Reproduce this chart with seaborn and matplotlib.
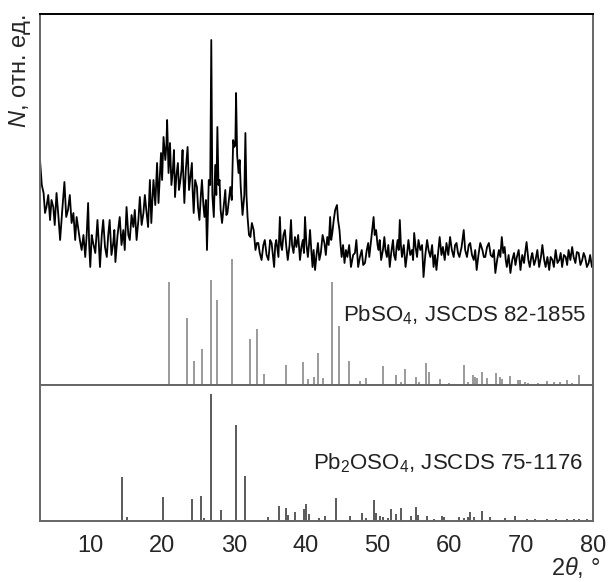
import numpy as np
import matplotlib
matplotlib.use("Agg")
import matplotlib.pyplot as plt
import seaborn as sns

sns.set_style("white")
plt.rcParams['font.family'] = ['Liberation Sans', 'DejaVu Sans']
plt.rcParams['mathtext.fontset'] = 'custom'
plt.rcParams['mathtext.rm'] = 'Liberation Sans'
plt.rcParams['mathtext.it'] = 'Liberation Sans:italic'

# measured pattern (2theta, intensity in arbitrary units)
tt = [3.0, 3.25, 3.5, 3.7, 3.9, 4.15, 4.4, 4.6, 4.85, 5.05,
      5.3, 5.55, 5.8, 6.1, 6.4, 6.65, 6.9, 7.15, 7.4, 7.65,
      7.9, 8.1, 8.3, 8.55, 8.8, 9.05, 9.3, 9.5, 9.7, 9.85,
      10.0, 10.2, 10.4, 10.7, 11.0, 11.2, 11.35, 11.6, 11.8, 12.05,
      12.3, 12.5, 12.7, 12.95, 13.2, 13.35, 13.5, 13.8, 14.1, 14.35,
      14.6, 14.8, 15.05, 15.3, 15.5, 15.75, 16.0, 16.2, 16.45, 16.7,
      16.9, 17.15, 17.4, 17.6, 17.8, 18.05, 18.3, 18.5, 18.65, 18.8,
      19.05, 19.3, 19.5, 19.7, 19.85, 20.0, 20.2, 20.45, 20.6, 20.7,
      20.9, 21.1, 21.3, 21.5, 21.65, 21.8, 22.0, 22.2, 22.35, 22.5,
      22.7, 22.85, 22.95, 23.1, 23.3, 23.55, 23.75, 23.9, 24.15, 24.25,
      24.4, 24.6, 24.85, 25.0, 25.2, 25.4, 25.55, 25.75, 25.9, 26.1,
      26.25, 26.4, 26.5, 26.7, 26.85, 27.0, 27.2, 27.4, 27.55, 27.7,
      27.85, 28.0, 28.15, 28.35, 28.6, 28.8, 28.95, 29.1, 29.3, 29.5,
      29.7, 29.9, 30.05, 30.2, 30.3, 30.45, 30.65, 30.8, 30.95, 31.2,
      31.45, 31.6, 31.75, 31.9, 32.1, 32.3, 32.5, 32.75, 33.0, 33.2,
      33.4, 33.6, 33.85, 34.1, 34.3, 34.55, 34.8, 35.05, 35.25, 35.45,
      35.6, 35.75, 35.9, 36.2, 36.4, 36.55, 36.7, 36.9, 37.1, 37.3,
      37.5, 37.75, 37.95, 38.1, 38.3, 38.5, 38.7, 38.95, 39.2, 39.4,
      39.6, 39.75, 39.9, 40.1, 40.3, 40.45, 40.6, 40.8, 40.95, 41.1,
      41.3, 41.5, 41.7, 41.9, 42.1, 42.35, 42.6, 42.8, 43.0, 43.2,
      43.4, 43.55, 43.7, 43.9, 44.1, 44.35, 44.5, 44.7, 44.85, 45.0,
      45.2, 45.4, 45.6, 45.8, 46.05, 46.3, 46.6, 46.85, 47.05, 47.3,
      47.55, 47.8, 48.0, 48.25, 48.5, 48.7, 48.85, 49.0, 49.2, 49.45,
      49.6, 49.8, 50.0, 50.15, 50.3, 50.5, 50.75, 50.95, 51.1, 51.3,
      51.5, 51.7, 51.9, 52.15, 52.3, 52.5, 52.65, 52.8, 52.95, 53.1,
      53.25, 53.4, 53.65, 53.9, 54.1, 54.3, 54.55, 54.8, 54.95, 55.1,
      55.3, 55.5, 55.7, 55.95, 56.2, 56.4, 56.65, 56.9, 57.1, 57.35,
      57.6, 57.8, 58.0, 58.2, 58.4, 58.65, 58.9, 59.1, 59.35, 59.6,
      59.85, 60.1, 60.35, 60.6, 60.8, 61.0, 61.2, 61.4, 61.7, 62.0,
      62.2, 62.45, 62.7, 62.9, 63.15, 63.4, 63.6, 63.8, 64.05, 64.3,
      64.6, 64.8, 65.0, 65.25, 65.5, 65.75, 66.0, 66.2, 66.4, 66.65,
      66.9, 67.1, 67.3, 67.5, 67.7, 67.85, 68.0, 68.25, 68.5, 68.75,
      69.0, 69.2, 69.4, 69.65, 69.9, 70.15, 70.4, 70.55, 70.75, 71.0,
      71.2, 71.4, 71.55, 71.8, 72.0, 72.25, 72.5, 72.75, 72.95, 73.2,
      73.4, 73.65, 73.9, 74.1, 74.35, 74.55, 74.8, 75.05, 75.3, 75.5,
      75.7, 75.95, 76.2, 76.4, 76.6, 76.85, 77.1, 77.3, 77.55, 77.75,
      78.0, 78.25, 78.5, 78.7, 78.9, 79.15, 79.4, 79.6, 79.85, 80.0]
counts = [225, 200, 192, 172, 178, 190, 165, 185, 178, 160,
          192, 170, 145, 175, 203, 168, 175, 190, 162, 172,
          145, 168, 158, 145, 135, 150, 128, 150, 182, 140,
          118, 150, 142, 132, 165, 140, 118, 150, 165, 138,
          128, 150, 165, 130, 142, 155, 123, 150, 168, 140,
          155, 135, 178, 150, 145, 170, 158, 175, 145, 165,
          188, 160, 172, 190, 175, 158, 205, 162, 185, 205,
          180, 222, 182, 210, 232, 205, 248, 225, 240, 265,
          212, 242, 200, 215, 235, 188, 210, 222, 195, 202,
          215, 235, 210, 182, 215, 238, 195, 205, 222, 195,
          172, 205, 198, 178, 165, 190, 205, 180, 168, 185,
          135, 175, 205, 200, 345, 190, 168, 220, 190, 258,
          200, 205, 175, 162, 180, 195, 170, 172, 185, 198,
          185, 245, 238, 240, 292, 230, 212, 225, 198, 170,
          190, 252, 190, 168, 150, 148, 162, 155, 135, 142,
          142, 132, 125, 140, 145, 130, 125, 145, 142, 128,
          118, 140, 145, 128, 168, 140, 135, 150, 155, 138,
          125, 140, 165, 140, 132, 148, 138, 150, 125, 138,
          145, 132, 168, 140, 128, 140, 155, 132, 118, 135,
          115, 130, 142, 125, 132, 150, 142, 130, 148, 140,
          168, 145, 152, 165, 175, 180, 165, 155, 140, 128,
          140, 122, 135, 128, 140, 118, 130, 132, 145, 118,
          128, 135, 120, 122, 135, 142, 128, 138, 152, 168,
          150, 155, 140, 135, 145, 125, 135, 148, 135, 128,
          140, 118, 132, 145, 130, 125, 138, 145, 135, 165,
          140, 128, 140, 118, 130, 145, 130, 135, 125, 152,
          138, 128, 145, 135, 140, 108, 130, 145, 135, 128,
          140, 118, 130, 115, 130, 148, 130, 138, 125, 142,
          130, 148, 135, 128, 140, 142, 132, 128, 138, 155,
          135, 128, 140, 142, 130, 125, 135, 115, 130, 142,
          135, 128, 128, 138, 142, 130, 128, 135, 112, 125,
          135, 128, 148, 132, 138, 125, 118, 130, 112, 125,
          132, 120, 128, 135, 115, 130, 122, 132, 143, 125,
          118, 128, 132, 120, 125, 135, 118, 128, 140, 125,
          118, 128, 115, 128, 125, 118, 135, 122, 125, 132,
          118, 130, 128, 120, 135, 125, 138, 128, 122, 133,
          132, 120, 125, 132, 128, 118, 122, 130, 118, 120]

# PbSO4 reference lines
pbso4_pos = [20.9, 23.4, 24.5, 25.6, 26.8, 27.7, 29.8, 32.3, 33.2, 34.2, 37.3, 39.6,
             40.3, 41.1, 41.7, 42.4, 43.7, 44.7, 46.0, 47.6, 48.4, 50.8, 52.5, 53.2,
             53.8, 55.4, 55.8, 56.7, 57.2, 58.7, 59.9, 62.0, 62.6, 63.3, 63.6, 63.9,
             64.6, 65.2, 66.5, 67.0, 67.3, 68.5, 69.5, 69.9, 70.5, 71.0, 72.4, 73.6,
             74.5, 75.4, 76.4, 77.1, 78.1]
pbso4_int = [103, 67, 24, 36, 105, 85, 126, 46, 56, 11, 20, 23,
             6, 8, 32, 7, 103, 59, 24, 4, 7, 19, 10, 3,
             16, 8, 3, 22, 13, 6, 2, 20, 3, 10, 8, 7,
             13, 7, 12, 8, 6, 9, 5, 5, 3, 2, 2, 4,
             3, 3, 5, 2, 10]

# Pb2OSO4 reference lines
pb2oso4_pos = [14.4, 15.1, 20.1, 24.2, 25.4, 25.9, 26.8, 28.2, 30.3, 31.5, 34.7, 36.3,
               37.2, 37.6, 38.5, 39.7, 40.1, 40.4, 41.8, 42.7, 44.2, 46.1, 47.8, 48.4,
               49.5, 49.8, 50.3, 50.7, 51.4, 51.9, 52.5, 53.2, 54.6, 55.3, 55.6, 56.9,
               57.8, 59.0, 59.2, 61.3, 62.0, 62.6, 62.9, 63.4, 64.6, 65.7, 67.8, 69.2,
               70.8, 71.9, 73.6, 74.9, 76.4, 77.3, 78.0, 79.1]
pb2oso4_int = [44, 4, 24, 22, 25, 3, 127, 11, 96, 45, 4, 15,
               13, 6, 9, 12, 17, 7, 3, 5, 23, 5, 8, 3,
               21, 8, 5, 4, 3, 12, 7, 13, 5, 14, 6, 5,
               2, 5, 4, 4, 3, 4, 9, 4, 10, 4, 3, 5,
               2, 2, 2, 2, 2, 2, 2, 2]

assert len(tt) == len(counts)

W, H = 611, 582
fig = plt.figure(figsize=(W / 100, H / 100), dpi=100)
x0, x1 = 40 / W, 593 / W
ax1 = fig.add_axes([x0, (H - 385) / H, x1 - x0, (385 - 14) / H])
ax2 = fig.add_axes([x0, (H - 521) / H, x1 - x0, (521 - 385) / H], sharex=ax1)

sns.lineplot(x=tt, y=counts, ax=ax1, color='black', lw=1.3, estimator=None, sort=False)
ax1.vlines(pbso4_pos, 0, pbso4_int, color='#9a9a9a', lw=1.4)
ax2.vlines(pb2oso4_pos, 0, pb2oso4_int, color='#5a5a5a', lw=1.4)

ax1.set_ylim(0, 371)
ax2.set_ylim(0, 136)
ax1.set_xlim(3, 80)

for ax in (ax1, ax2):
    ax.set_yticks([])
    ax.set_ylabel('')
    for s in ax.spines.values():
        s.set_color('#666666')
        s.set_linewidth(1.4)
ax1.spines['top'].set_color('black')
ax1.tick_params(axis='x', bottom=False, labelbottom=False)

ax2.set_xticks(range(10, 81, 10))
ax2.set_xticks(range(5, 80, 10), minor=True)
ax2.tick_params(axis='x', which='both', direction='out', length=4, width=1.2,
                color='#666666', labelsize=17, pad=6)

ax1.text(79, 70, r'PbSO$_4$, JSCDS 82-1855', ha='right', va='center', fontsize=16, color='#222222')
ax2.text(78.6, 58, r'Pb$_2$OSO$_4$, JSCDS 75-1176', ha='right', va='center', fontsize=16, color='#222222')

fig.text(20 / W, (H - 14) / H, r'$N$, отн. ед.', rotation=90, ha='center', va='top', fontsize=17)
fig.text(600 / W, (H - 567) / H, r'2$\theta$, °', ha='right', va='center', fontsize=17)

fig.savefig('out.png', dpi=100)
